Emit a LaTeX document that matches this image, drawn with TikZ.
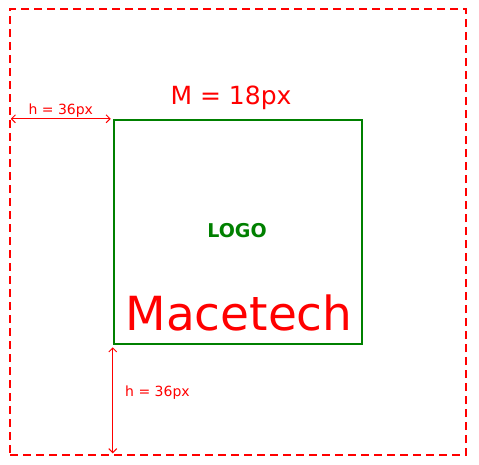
\documentclass[tikz,border=0pt]{standalone}
\usepackage{fontspec}
\setmainfont{DejaVu Sans}
\usetikzlibrary{arrows.meta,positioning,calc}
\definecolor{logogreen}{RGB}{0,128,0}

\begin{document}
\begin{tikzpicture}[x=1pt,y=-1pt,
    frame/.style={draw=red,dashed,line width=2.5pt,dash pattern=on 8pt off 5pt,
        minimum width=456pt,minimum height=446pt,inner sep=0pt},
    logobox/.style={draw=logogreen,line width=2.5pt,minimum width=248pt,
        minimum height=224pt,inner sep=0pt},
    dim/.style={draw=red,line width=1pt,
        arrows={Straight Barb[length=4pt,width=8pt]-Straight Barb[length=4pt,width=8pt]}},
    dimlabel/.style={text=red,font=\fontsize{14}{16}\selectfont,inner sep=0pt}]
\useasboundingbox (0,0) rectangle (479,464);
\node[frame] (border) at (238,232) {};
\node[logobox] (logo) at (238,232) {};
\node[text=logogreen,font=\bfseries\fontsize{19}{22}\selectfont] (logotext) at (237,231) {LOGO};
\node[text=red,font=\fontsize{47}{52}\selectfont] (brand) at (239,313) {Macetech};
\node[text=red,font=\fontsize{25}{30}\selectfont] (margin) at (231,98) {M = 18px};
% spacing marks
\coordinate (hleft) at ($(border.west |- logo.north west)+(2,0)$);
\coordinate (hright) at ($(logo.north west)+(-2,0)$);
\coordinate (vtop) at ($(logo.south west)+(0,2)$);
\coordinate (vbot) at ($(logo.south west |- border.south)+(0,-3)$);
\draw[dim] (hleft) -- (hright) node[midway,above=0.5pt,dimlabel] {h = 36px};
\draw[dim] (vtop) -- (vbot);
\node[dimlabel,anchor=west] (hgap) at (125,393) {h = 36px};
\end{tikzpicture}
\end{document}
